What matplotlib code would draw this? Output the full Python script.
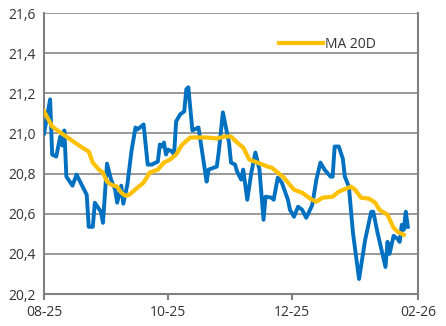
import matplotlib
matplotlib.use("Agg")
import matplotlib.pyplot as plt
import matplotlib.dates as mdates
from matplotlib.ticker import FuncFormatter, MultipleLocator
import pandas as pd

# 일별 시세 (파란 선)
daily_dates = [
    "2025-08-01", "2025-08-04", "2025-08-05", "2025-08-07", "2025-08-09", "2025-08-10",
    "2025-08-11", "2025-08-12", "2025-08-15", "2025-08-17", "2025-08-20", "2025-08-22",
    "2025-08-23", "2025-08-25", "2025-08-26", "2025-08-29", "2025-08-30", "2025-09-01",
    "2025-09-03", "2025-09-05", "2025-09-06", "2025-09-08", "2025-09-09", "2025-09-11",
    "2025-09-13", "2025-09-15", "2025-09-16", "2025-09-19", "2025-09-21", "2025-09-23",
    "2025-09-26", "2025-09-27", "2025-09-28", "2025-09-29", "2025-09-30", "2025-10-01",
    "2025-10-03", "2025-10-04", "2025-10-05", "2025-10-07", "2025-10-09", "2025-10-10",
    "2025-10-11", "2025-10-13", "2025-10-16", "2025-10-18", "2025-10-20", "2025-10-21",
    "2025-10-25", "2025-10-26", "2025-10-28", "2025-10-31", "2025-11-01", "2025-11-03",
    "2025-11-04", "2025-11-06", "2025-11-07", "2025-11-09", "2025-11-11", "2025-11-13",
    "2025-11-15", "2025-11-17", "2025-11-18", "2025-11-21", "2025-11-22", "2025-11-24",
    "2025-11-26", "2025-11-29", "2025-11-30", "2025-12-02", "2025-12-04", "2025-12-06",
    "2025-12-08", "2025-12-09", "2025-12-11", "2025-12-13", "2025-12-15", "2025-12-17",
    "2025-12-20", "2025-12-21", "2025-12-22", "2025-12-24", "2025-12-26", "2025-12-27",
    "2025-12-29", "2025-12-31", "2026-01-03", "2026-01-06", "2026-01-09", "2026-01-10",
    "2026-01-12", "2026-01-16", "2026-01-17", "2026-01-18", "2026-01-20", "2026-01-22",
    "2026-01-23", "2026-01-24", "2026-01-25", "2026-01-26", "2026-01-27",
]
daily_values = [
    21.00, 21.17, 20.895, 20.885, 20.985, 20.94,
    21.015, 20.785, 20.74, 20.795, 20.735, 20.695,
    20.535, 20.535, 20.655, 20.61, 20.555, 20.85,
    20.77, 20.72, 20.655, 20.74, 20.65, 20.745,
    20.91, 21.03, 21.02, 21.045, 20.845, 20.845,
    20.86, 20.945, 20.935, 20.955, 20.895, 20.92,
    20.91, 20.895, 21.06, 21.095, 21.11, 21.22,
    21.23, 21.015, 21.03, 20.895, 20.76, 20.82,
    20.835, 20.91, 21.105, 20.955, 20.855, 20.845,
    20.81, 20.77, 20.82, 20.67, 20.805, 20.905,
    20.82, 20.57, 20.685, 20.68, 20.67, 20.78,
    20.755, 20.67, 20.62, 20.585, 20.635, 20.62,
    20.58, 20.60, 20.645, 20.77, 20.855, 20.82,
    20.785, 20.785, 20.935, 20.935, 20.875, 20.785,
    20.735, 20.505, 20.275, 20.47, 20.61, 20.61,
    20.51, 20.335, 20.46, 20.40, 20.49, 20.475,
    20.46, 20.545, 20.52, 20.61, 20.535,
]

# 20일 이동평균 (노란 선)
ma_dates = [
    "2025-08-01", "2025-08-05", "2025-08-09", "2025-08-14", "2025-08-19", "2025-08-23",
    "2025-08-25", "2025-08-28", "2025-08-30", "2025-09-01", "2025-09-03", "2025-09-06",
    "2025-09-08", "2025-09-10", "2025-09-12", "2025-09-16", "2025-09-19", "2025-09-22",
    "2025-09-26", "2025-09-29", "2025-10-02", "2025-10-05", "2025-10-08", "2025-10-12",
    "2025-10-15", "2025-10-20", "2025-10-25", "2025-10-29", "2025-11-01", "2025-11-04",
    "2025-11-07", "2025-11-10", "2025-11-14", "2025-11-19", "2025-11-21", "2025-11-24",
    "2025-11-27", "2025-12-02", "2025-12-06", "2025-12-10", "2025-12-13", "2025-12-16",
    "2025-12-21", "2025-12-24", "2025-12-30", "2026-01-01", "2026-01-04", "2026-01-08",
    "2026-01-11", "2026-01-13", "2026-01-17", "2026-01-20", "2026-01-22", "2026-01-25",
]
ma_values = [
    21.11, 21.035, 21.005, 20.97, 20.935, 20.91,
    20.855, 20.82, 20.805, 20.76, 20.745, 20.735,
    20.705, 20.69, 20.695, 20.73, 20.755, 20.805,
    20.82, 20.855, 20.87, 20.895, 20.945, 20.98,
    20.98, 20.98, 20.975, 20.985, 20.985, 20.955,
    20.93, 20.87, 20.855, 20.835, 20.83, 20.805,
    20.78, 20.72, 20.705, 20.675, 20.66, 20.68,
    20.685, 20.71, 20.735, 20.72, 20.68, 20.675,
    20.655, 20.62, 20.595, 20.53, 20.51, 20.495,
]

x_ticks = ["2025-08-01", "2025-10-01", "2025-12-01", "2026-02-01"]

plt.rcParams['font.family'] = ['Open Sans', 'DejaVu Sans']

fig = plt.figure(figsize=(4.46, 3.26), dpi=100)
ax = fig.add_axes([0.0987, 0.098, 0.8385, 0.862])

ax.plot(pd.to_datetime(daily_dates), daily_values, color='#0070C0', lw=2.8,
        solid_joinstyle='round', zorder=3)
ax.plot(pd.to_datetime(ma_dates), ma_values, color='#FFC000', lw=3.0,
        solid_joinstyle='round', label='MA 20D', zorder=4)

ax.set_ylim(20.2, 21.6)
ax.yaxis.set_major_locator(MultipleLocator(0.2))
ax.yaxis.set_major_formatter(FuncFormatter(lambda v, p: f"{v:.1f}".replace('.', ',')))
ax.set_xlim(pd.Timestamp(x_ticks[0]), pd.Timestamp(x_ticks[-1]))
ax.set_xticks(pd.to_datetime(x_ticks))
ax.xaxis.set_major_formatter(mdates.DateFormatter('%m-%y'))

ax.grid(axis='y', color='#888888', lw=1.2)
ax.set_axisbelow(True)
for s in ['left', 'bottom', 'right']:
    ax.spines[s].set_color('#808080')
    ax.spines[s].set_linewidth(1.5)
ax.spines['top'].set_visible(False)

ax.tick_params(axis='y', length=0, pad=6, labelsize=10, labelcolor='#333333')
ax.tick_params(axis='x', length=4, width=1.5, color='#808080', pad=4,
               labelsize=10, labelcolor='#333333')

ax.legend(loc='upper right', bbox_to_anchor=(0.92, 0.96), frameon=False, fontsize=10,
          handlelength=3.2, handletextpad=0.1, labelcolor='#333333')

fig.savefig('out.png', dpi=100)
